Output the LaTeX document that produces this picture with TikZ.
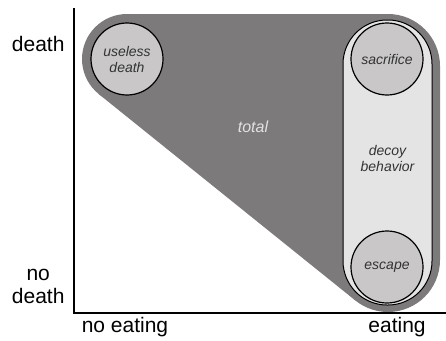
\documentclass[tikz,border=0pt]{standalone}
\usepackage{fontspec}
\setmainfont{Liberation Sans}
\definecolor{darkarea}{HTML}{7D7A7B}
\definecolor{circlefill}{HTML}{C9C7C8}
\definecolor{decoyfill}{HTML}{E5E4E4}
\definecolor{innertext}{HTML}{333333}
\definecolor{totaltext}{HTML}{E2E2E2}
\begin{document}
\begin{tikzpicture}[x=1pt,y=-1pt,
    outcome/.style={circle,draw=black,line width=1.2pt,fill=circlefill,minimum size=72pt,inner sep=0pt,align=center,font=\fontsize{14}{16}\selectfont\itshape,text=innertext},
    axislabel/.style={font=\fontsize{21}{23}\selectfont,align=center}]
        \useasboundingbox (0,0) rectangle (446,340);

        % total area
        \fill[darkarea] (127,59) circle[radius=45];
        \fill[darkarea, rounded corners=52pt] (336,14) rectangle (440,312);
        \fill[darkarea] (127,14) -- (388,14) -- (388,260) -- (355.4,300.5) -- (98.8,94.1) -- (127,59) -- cycle;
        \node[font=\fontsize{16}{18}\selectfont\itshape, text=totaltext] (total) at (253,127) {total};

        % decoy behavior
        \node[draw=black, line width=1pt, fill=decoyfill, rounded corners=44pt, minimum width=89pt, minimum height=285pt] (decoy) at (387.5,162.5) {};
        \node[align=center, font=\fontsize{14}{16}\selectfont\itshape, text=innertext] (decoylabel) at (387.5,158) {decoy\\behavior};

        % outcomes
        \node[outcome] (useless) at (127,59) {useless\\death};
        \node[outcome] (sacrifice) at (387,59) {sacrifice};
        \node[outcome] (escape) at (387,267) {escape};

        % axes
        \coordinate (top) at (74,8);
        \coordinate (origin) at (74,313);
        \coordinate (right) at (446,313);
        \draw[line width=1.5pt] (top) -- (origin) -- (right);

        % axis labels
        \node[axislabel, anchor=east] (death) at (68,44) {death};
        \node[axislabel, anchor=east] (nodeath) at (68,286) {no\\death};
        \node[axislabel] (noeating) at (125,327) {no eating};
        \node[axislabel] (eating) at (397,327) {eating};
    \end{tikzpicture}
\end{document}
